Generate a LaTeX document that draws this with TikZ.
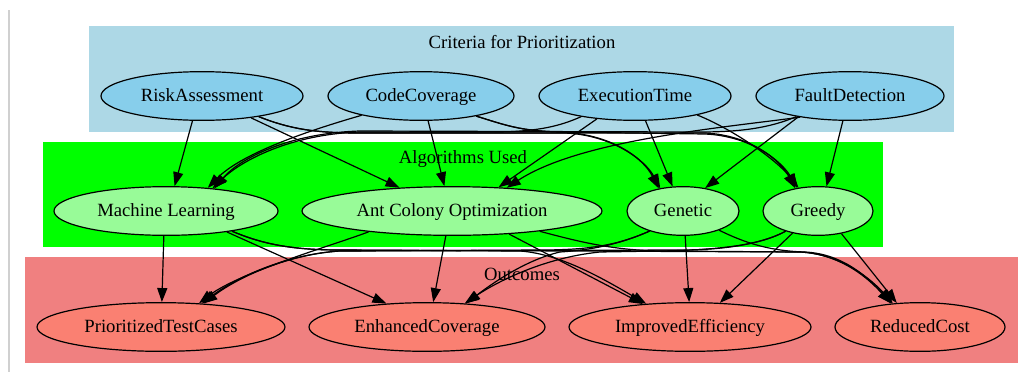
\documentclass[tikz,border=0pt]{standalone}
\usepackage{fontspec}
\setmainfont{Liberation Serif}
\usetikzlibrary{arrows.meta,shapes.geometric}
\definecolor{critbg}{HTML}{ADD8E6}
\definecolor{critnode}{HTML}{87CEEB}
\definecolor{algbg}{HTML}{00FF00}
\definecolor{algnode}{HTML}{98FB98}
\definecolor{outbg}{HTML}{F08080}
\definecolor{outnode}{HTML}{FA8072}
\definecolor{pageline}{HTML}{D0D0D0}
\begin{document}
\begin{tikzpicture}[x=0.75pt,y=-0.75pt,
  every node/.style={font=\fontsize{14}{16}\selectfont, text height=10.5pt, text depth=2.5pt},
  state/.style={ellipse, draw, line width=0.9pt, inner sep=0pt, minimum height=36.5pt},
  crit/.style={state, fill=critnode},
  alg/.style={state, fill=algnode},
  res/.style={state, fill=outnode},
  link/.style={line width=0.9pt, -{Triangle[length=10.5pt,width=7.5pt]}},
  grouplabel/.style={inner sep=0pt}
]
\useasboundingbox (0,0) rectangle (1021,372);
\fill[white] (0,0) rectangle (1021,372);
\draw[pageline, line width=0.8pt] (9,10) -- (9,372);

% cluster backgrounds
\fill[critbg] (89,26) rectangle (954,132);
\fill[algbg] (43,142) rectangle (883,247);
\fill[outbg] (25,257) rectangle (1018,363);
\node[grouplabel] (critlabel) at (522,43) {Criteria for Prioritization};
\node[grouplabel] (alglabel) at (463,158) {Algorithms Used};
\node[grouplabel] (outlabel) at (522,275) {Outcomes};

% criteria
\node[crit, minimum width=151.5pt] (RA) at (202,96) {RiskAssessment};
\node[crit, minimum width=139.5pt] (CC) at (421,96) {CodeCoverage};
\node[crit, minimum width=144pt] (ET) at (635,96) {ExecutionTime};
\node[crit, minimum width=141pt] (FD) at (850,96) {FaultDetection};

% algorithms
\node[alg, minimum width=168pt] (ML) at (166,211) {Machine Learning};
\node[alg, minimum width=225pt] (ACO) at (452,211) {Ant Colony Optimization};
\node[alg, minimum width=84pt] (GEN) at (683,211) {Genetic};
\node[alg, minimum width=82.5pt] (GRE) at (818,211) {Greedy};

% outcomes
\node[res, minimum width=186pt] (PTC) at (161,327) {PrioritizedTestCases};
\node[res, minimum width=177pt] (EC) at (427,327) {EnhancedCoverage};
\node[res, minimum width=181.5pt] (IE) at (690,327) {ImprovedEfficiency};
\node[res, minimum width=127.5pt] (RC) at (920,327) {ReducedCost};

% criteria -> algorithms
\draw[link] (RA.-111) -- (ML.71);
\draw[link] (RA.-24) -- (ACO.156);
\draw[link] (RA.-20) .. controls (290,129) and (315,133) .. (360,133) -- (565,133) .. controls (612,135) and (645,160) .. (GEN.135);
\draw[link] (RA.-20) .. controls (290,129) and (315,133) .. (360,133) -- (705,133) .. controls (750,135) and (780,160) .. (GRE.135);
\draw[link] (CC.198) .. controls (300,133) and (240,155) .. (ML.29);
\draw[link] (CC.-74) -- (ACO.107);
\draw[link] (CC.-20) .. controls (505,125) and (520,131) .. (560,132) .. controls (612,134) and (643,158) .. (GEN.137);
\draw[link] (CC.-20) .. controls (505,125) and (520,131) .. (560,132) -- (705,134) .. controls (752,136) and (782,162) .. (GRE.132);
\draw[link] (ET.-159) .. controls (560,126) and (540,131) .. (500,132) -- (360,132) .. controls (292,134) and (242,160) .. (ML.26);
\draw[link] (ET.-149) -- (ACO.27);
\draw[link] (ET.-67) -- (GEN.113);
\draw[link] (ET.-17) .. controls (730,128) and (775,158) .. (GRE.130);
\draw[link] (FD.-159) .. controls (770,128) and (740,132) .. (700,132) -- (360,131) .. controls (290,133) and (240,158) .. (ML.25);
\draw[link] (FD.-157) .. controls (720,128) and (580,140) .. (ACO.23);
\draw[link] (FD.-158) -- (GEN.46);
\draw[link] (FD.-106) -- (GRE.71);

% algorithms -> outcomes
\draw[link] (ML.-95) -- (PTC.88);
\draw[link] (ML.-19) -- (EC.150);
\draw[link] (ML.-17) .. controls (262,244) and (292,250) .. (340,250) -- (520,251) .. controls (562,254) and (605,280) .. (IE.152);
\draw[link] (ML.-17) .. controls (262,244) and (292,250) .. (340,250) -- (800,252) .. controls (842,254) and (870,280) .. (RC.141);
\draw[link] (ACO.-166) .. controls (340,243) and (240,272) .. (PTC.32);
\draw[link] (ACO.-104) -- (EC.76);
\draw[link] (ACO.-22) -- (IE.154);
\draw[link] (ACO.-13) .. controls (580,242) and (612,250) .. (660,251) -- (800,252) .. controls (842,254) and (872,280) .. (RC.139);
\draw[link] (GEN.-149) .. controls (618,245) and (590,250) .. (540,250) -- (340,251) .. controls (290,254) and (240,276) .. (PTC.29);
\draw[link] (GEN.-149) .. controls (618,245) and (590,250) .. (560,252) .. controls (525,260) and (490,285) .. (EC.31);
\draw[link] (GEN.-85) -- (IE.92);
\draw[link] (GEN.-28) .. controls (745,243) and (770,251) .. (805,252) .. controls (845,254) and (870,280) .. (RC.140);
\draw[link] (GRE.-148) .. controls (760,245) and (720,250) .. (680,250) -- (340,251) .. controls (290,254) and (240,275) .. (PTC.30);
\draw[link] (GRE.-148) .. controls (760,245) and (720,250) .. (660,251) -- (600,252) .. controls (540,258) and (492,285) .. (EC.32);
\draw[link] (GRE.-139) -- (IE.39);
\draw[link] (GRE.-44) -- (RC.134);
\end{tikzpicture}
\end{document}
